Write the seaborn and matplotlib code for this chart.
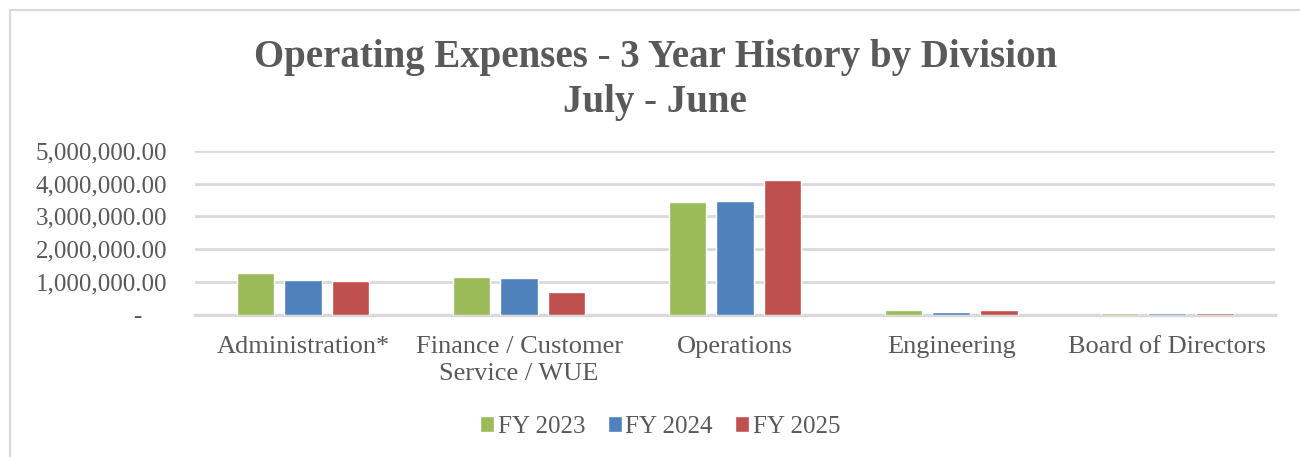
import matplotlib
matplotlib.use("Agg")
import matplotlib.pyplot as plt
from matplotlib.patches import Rectangle
from matplotlib.ticker import FuncFormatter, MultipleLocator
import seaborn as sns
import pandas as pd

# -----------------------------
# Data
# -----------------------------
divisions = ["Administration*", "Finance / Customer\nService / WUE", "Operations",
             "Engineering", "Board of Directors"]
years = ["FY 2023", "FY 2024", "FY 2025"]
fy2023 = [1270000, 1150000, 3430000, 150000, 70000]
fy2024 = [1050000, 1120000, 3470000, 100000, 60000]
fy2025 = [1020000, 700000, 4100000, 160000, 60000]
colors = ["#9BBB59", "#4F81BD", "#C0504D"]

rows = []
for yr, vals in zip(years, [fy2023, fy2024, fy2025]):
    for d, v in zip(divisions, vals):
        rows.append({"Division": d, "Year": yr, "Amount": v})
df = pd.DataFrame(rows)

# -----------------------------
# Style
# -----------------------------
sns.set_style("white")
plt.rcParams["font.family"] = ["Liberation Serif", "DejaVu Serif"]
text_color = "#595959"
grid_color = "#d9d9d9"

fig = plt.figure(figsize=(13, 4.57), dpi=100)
ax = fig.add_axes([0.15, 0.311, 0.831, 0.359])

sns.barplot(data=df, x="Division", y="Amount", hue="Year", hue_order=years,
            palette=dict(zip(years, colors)), width=0.66, gap=0.21,
            saturation=1, ax=ax, errorbar=None, zorder=3)

ax.set_ylim(0, 5000000)
ax.yaxis.set_major_locator(MultipleLocator(1000000))


def acct(v, pos):
    if abs(v) < 1:
        return "-    "
    return f"{v:,.2f}"


ax.yaxis.set_major_formatter(FuncFormatter(acct))
ax.grid(axis="y", color=grid_color, linewidth=2)
ax.set_axisbelow(True)
for s in ["left", "right", "top"]:
    ax.spines[s].set_visible(False)
ax.spines["bottom"].set_color(grid_color)
ax.spines["bottom"].set_linewidth(2.5)
ax.spines["bottom"].set_zorder(1)
ax.tick_params(axis="y", length=0, pad=20, labelsize=18, labelcolor=text_color)
ax.tick_params(axis="x", length=0, pad=15, labelsize=19, labelcolor=text_color)
for lbl in ax.get_xticklabels():
    lbl.set_linespacing(1.3)
ax.set_xlabel("")
ax.set_ylabel("")

fig.suptitle("Operating Expenses - 3 Year History by Division\nJuly - June",
             x=0.504, y=0.915, fontsize=28, fontweight="bold", color=text_color,
             linespacing=1.3)

ax.legend_.remove()
handles, labels = ax.get_legend_handles_labels()
fig.legend(handles, labels, loc="center", bbox_to_anchor=(0.508, 0.066), ncol=3,
           frameon=False, fontsize=18, labelcolor=text_color,
           handlelength=0.55, handleheight=0.55, handletextpad=0.15, columnspacing=0.9)

# outer chart frame
fig.patches.append(Rectangle((0.008, -0.1), 1.1, 1.078, transform=fig.transFigure,
                             fill=False, edgecolor=grid_color, linewidth=1.5))

plt.savefig("out.png", dpi=100)
